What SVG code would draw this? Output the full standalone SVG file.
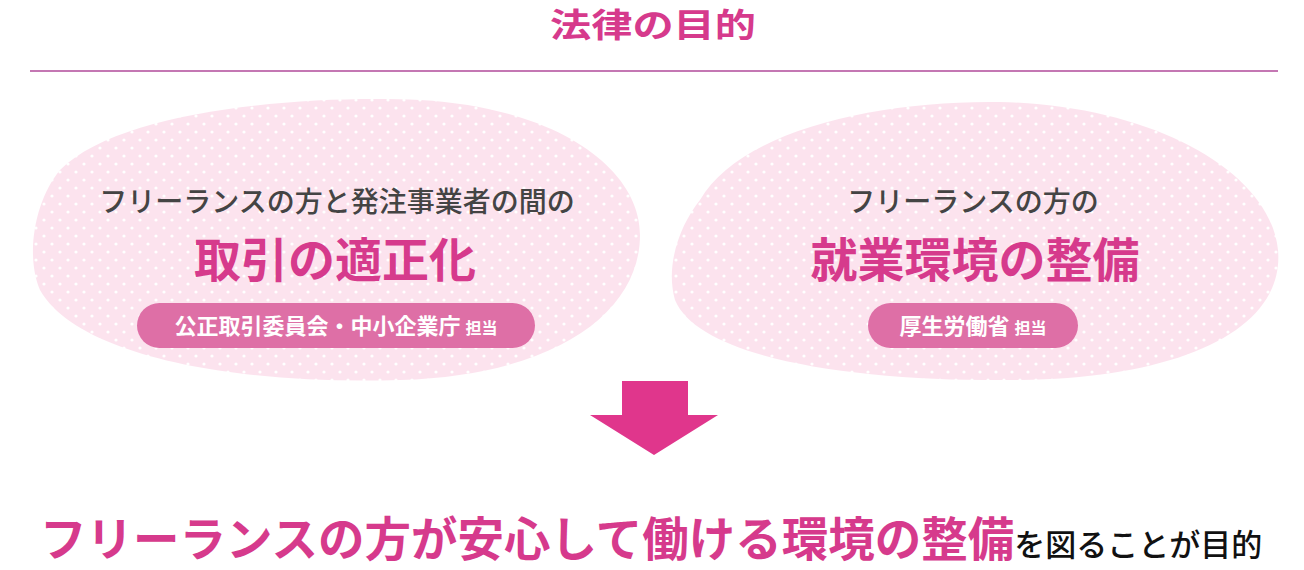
<svg xmlns="http://www.w3.org/2000/svg" width="1304" height="570" viewBox="0 0 1304 570">
<style>
text{font-family:"Noto Sans CJK JP","Noto Sans",sans-serif;text-anchor:middle}
.sub{font-size:28px;fill:#444;font-weight:500}
.big{font-size:47px;fill:#d63a8c;font-weight:700}
.pill{fill:#de6fa6}
.pt{font-size:22px;fill:#fff;font-weight:700}
.tan{font-size:16px}
</style>
<defs>
<pattern id="dots" width="16" height="16" patternUnits="userSpaceOnUse">
<rect width="16" height="16" fill="#fce3ee"/>
<circle cx="4" cy="4" r="1.6" fill="#fff"/>
<circle cx="12" cy="12" r="1.6" fill="#fff"/>
</pattern>
</defs>
<rect width="1304" height="570" fill="#fff"/>
<text x="653" y="37" font-size="33" font-weight="700" fill="#d63a8c" textLength="206" lengthAdjust="spacingAndGlyphs">法律の目的</text>
<line x1="30" y1="71" x2="1278" y2="71" stroke="#b04a9a" stroke-width="1.5"/>
<g id="node-left">
<path d="M60,170 C120,110 300,95 420,100 C560,108 640,170 640,235 C640,310 560,375 400,380 C250,385 80,360 40,290 C25,255 35,200 60,170 Z" fill="url(#dots)"/>
<text class="sub" x="337" y="212">フリーランスの方と発注事業者の間の</text>
<text class="big" x="335" y="277">取引の適正化</text>
<rect class="pill" x="137" y="303" width="398" height="45" rx="22.5"/>
<text class="pt" x="336" y="334">公正取引委員会・中小企業庁 <tspan class="tan">担当</tspan></text>
</g>
<g id="node-right">
<path d="M700,200 C740,130 880,100 1000,102 C1150,105 1270,170 1278,250 C1285,330 1180,378 1020,380 C860,382 700,360 675,300 C665,265 680,225 700,200 Z" fill="url(#dots)"/>
<text class="sub" x="973" y="212">フリーランスの方の</text>
<text class="big" x="975" y="277">就業環境の整備</text>
<rect class="pill" x="868" y="303" width="210" height="45" rx="22.5"/>
<text class="pt" x="973" y="334">厚生労働省 <tspan class="tan">担当</tspan></text>
</g>
<g id="connectors">
<path d="M622,381 H688 V415 H718 L654,455 L590,415 H622 Z" fill="#e0368c"/>
</g>
<g id="node-bottom">
<text x="40" y="556" style="text-anchor:start"><tspan font-size="46.5" font-weight="700" fill="#d63a8c">フリーランスの方が安心して働ける環境の整備</tspan><tspan font-size="31" font-weight="500" fill="#111">を図ることが目的</tspan></text>
</g>
</svg>
